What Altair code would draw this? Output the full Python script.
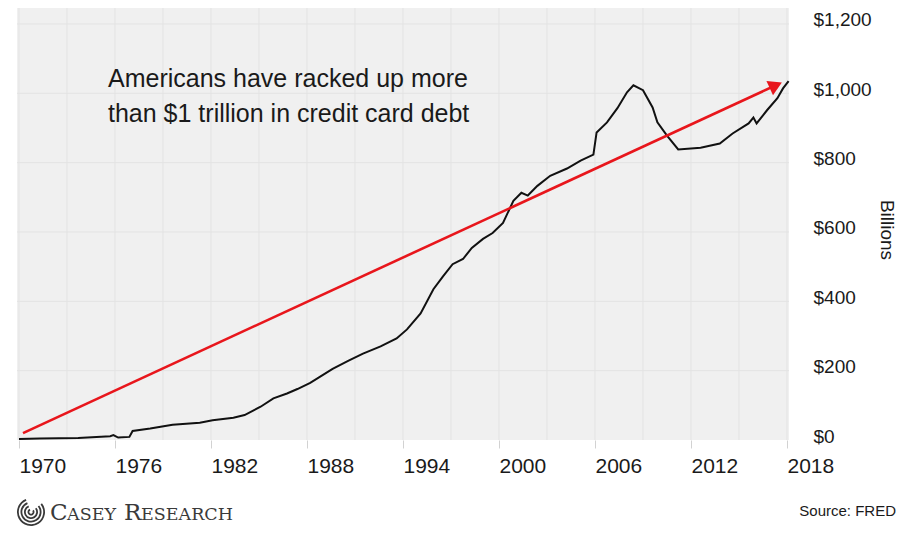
import altair as alt
import pandas as pd

# ---- data (billions of dollars) ----
years = [1970.0, 1971.3, 1973.7, 1975.7, 1975.9, 1976.2, 1976.9, 1977.1, 1978.2, 1979.6,
         1981.3, 1982.1, 1983.4, 1984.1, 1985.1, 1985.9, 1986.75, 1987.4, 1988.2, 1988.9,
         1989.6, 1990.6, 1991.5, 1992.6, 1993.6, 1994.25, 1995.1, 1995.9, 1996.5, 1997.1,
         1997.75, 1998.3, 1999.0, 1999.6, 2000.25, 2000.9, 2001.4, 2001.8, 2002.4, 2003.2,
         2004.25, 2005.1, 2005.9, 2006.1, 2006.75, 2007.4, 2008.0, 2008.4, 2009.0, 2009.6,
         2009.9, 2010.5, 2011.2, 2012.6, 2013.8, 2014.6, 2015.6, 2015.9, 2016.1, 2016.75,
         2017.4, 2017.75, 2018.1]
debt = [3, 4, 6, 11, 14, 7, 9, 26, 33, 44,
        50, 57, 64, 72, 96, 120, 134, 147, 165, 185,
        205, 229, 249, 270, 293, 319, 365, 435, 472, 507,
        522, 554, 580, 597, 626, 690, 713, 705, 733, 762,
        783, 806, 823, 887, 916, 957, 1003, 1023, 1009, 959,
        916, 878, 838, 843, 855, 884, 913, 930, 913, 951,
        986, 1014, 1035]

arrow_years = [1970.25, 2017.3]
arrow_values = [20, 1023]

label_years = [1970, 1976, 1982, 1988, 1994, 2000, 2006, 2012, 2018]
grid_years = [1970, 1973, 1976, 1979, 1982, 1985, 1988, 1991, 1994, 1997,
              2000, 2003, 2006, 2009, 2012, 2015, 2018]
y_ticks = [0, 200, 400, 600, 800, 1000, 1200]

annotation_lines = ["Americans have racked up more", "than $1 trillion in credit card debt"]
source_text = "Source: FRED"
y_title = "Billions"

# ---- styling ----
FONT = "Liberation Sans"
BG = "#f0f0f0"
GRID = "#e3e3e3"
RED = "#e8161c"
INK = "#1a1a1a"
W, H = 772, 440

xs = alt.Scale(domain=[1969.875, 2018.125], nice=False, zero=False)
ys = alt.Scale(domain=[0, 1269], nice=False, zero=True)

x_axis = alt.Axis(values=label_years, format="d", labelAlign="left", labelFont=FONT,
                  labelFontSize=21, labelColor=INK, tickSize=8, tickColor="#d2d2d2",
                  tickWidth=1, domain=False, grid=False, labelPadding=7, title=None,
                  labelOverlap=False, labelFlush=False, labelBound=False)
y_axis = alt.Axis(values=y_ticks, format="$,d", orient="right", labelAlign="left",
                  labelFont=FONT, labelFontSize=19, labelColor=INK, ticks=False,
                  domain=False, grid=False, labelPadding=24, labelOffset=-4, title=None,
                  labelOverlap=False, labelFlush=False, labelBound=False)

X = lambda: alt.X("year:Q", scale=xs, axis=x_axis)
Y = lambda: alt.Y("value:Q", scale=ys, axis=y_axis)

line_df = pd.DataFrame({"year": years, "value": debt})
arrow_df = pd.DataFrame({"year": arrow_years, "value": arrow_values})
head_df = pd.DataFrame({"year": arrow_years[-1:], "value": arrow_values[-1:]})
vgrid_df = pd.DataFrame({"year": grid_years})
hgrid_df = pd.DataFrame({"value": y_ticks[1:]})
one = pd.DataFrame({"a": [0]})

vgrid = alt.Chart(vgrid_df).mark_rule(color=GRID, strokeWidth=1).encode(x=X())
hgrid = alt.Chart(hgrid_df).mark_rule(color=GRID, strokeWidth=1).encode(y=Y())

debt_line = alt.Chart(line_df).mark_line(color="#111111", strokeWidth=2).encode(x=X(), y=Y())

arrow_line = alt.Chart(arrow_df).mark_line(color=RED, strokeWidth=2.6).encode(x=X(), y=Y())
arrow_head = alt.Chart(head_df).mark_point(shape="triangle-right", filled=True, size=240,
                                           angle=335, color=RED, opacity=1).encode(x=X(), y=Y())

ann1 = alt.Chart(one).mark_text(font=FONT, fontSize=25, color=INK, align="left",
                                baseline="alphabetic").encode(
    x=alt.value(91), y=alt.value(87), text=alt.value(annotation_lines[0]))
ann2 = alt.Chart(one).mark_text(font=FONT, fontSize=25, color=INK, align="left",
                                baseline="alphabetic").encode(
    x=alt.value(91), y=alt.value(122), text=alt.value(annotation_lines[1]))

billions = alt.Chart(one).mark_text(font=FONT, fontSize=19, color=INK, align="center",
                                    baseline="middle", angle=90).encode(
    x=alt.value(870), y=alt.value(230), text=alt.value(y_title))

source = alt.Chart(one).mark_text(font=FONT, fontSize=15, color=INK, align="right",
                                  baseline="alphabetic").encode(
    x=alt.value(879), y=alt.value(516), text=alt.value(source_text))

# ---- Casey Research logo (decorative) ----
SERIF = "DejaVu Serif"
LOGO = "#3a3a3a"
logo_parts = [("C", 33, 23), ("ASEY", 50, 17.5), ("R", 107, 23), ("ESEARCH", 124, 17.5)]
logo_layers = []
for txt, xpos, fs in logo_parts:
    logo_layers.append(
        alt.Chart(one).mark_text(font=SERIF, fontSize=fs, color=LOGO, align="left",
                                 baseline="alphabetic").encode(
            x=alt.value(xpos), y=alt.value(520), text=alt.value(txt)))
for r in [3.5, 7, 10.5, 14]:
    logo_layers.append(
        alt.Chart(one).mark_arc(color=LOGO).encode(
            x=alt.value(14), y=alt.value(512),
            radius=alt.value(r), radius2=alt.value(r - 1.8),
            theta=alt.value(0.9), theta2=alt.value(5.9)))

chart = alt.layer(
    vgrid, hgrid, debt_line, arrow_line, arrow_head, ann1, ann2, billions, source,
    *logo_layers
).properties(
    width=W, height=H,
    padding={"left": 9, "top": -8, "right": 117, "bottom": 88},
    autosize=alt.AutoSizeParams(type="none"),
    background="white",
).configure_view(fill=BG, strokeWidth=0)

chart.save("out.html", embed_options={"renderer": "svg", "actions": False})
